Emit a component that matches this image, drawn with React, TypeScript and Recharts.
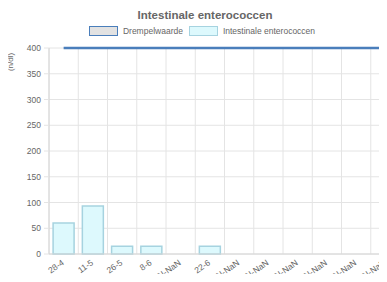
import { ComposedChart, Bar, Line, XAxis, YAxis, CartesianGrid } from 'recharts'

// sample dates (NaN-NaN where the source had no date)
const dates = ['28-4', '11-5', '26-5', '8-6', 'NaN-NaN', '22-6', 'NaN-NaN', 'NaN-NaN', 'NaN-NaN', 'NaN-NaN', 'NaN-NaN', 'NaN-NaN']
const enterococcen: Array<number | null> = [60, 93, 15, 15, null, 15, null, null, null, null, null, null]
const drempelwaarde = [400, 400, 400, 400, 400, 400, 400, 400, 400, 400, 400, 400]
const yTicks = [0, 50, 100, 150, 200, 250, 300, 350, 400]

const data = dates.map((d, i) => ({
  key: i,
  label: d,
  value: enterococcen[i],
  threshold: drempelwaarde[i],
}))

const FONT = '"Liberation Sans", Arial, sans-serif'
const TEXT = '#666'
const GRID = '#e4e4e4'

const XTick = ({ x, y, payload }: { x?: number; y?: number; payload?: { value: number } }) => {
  const label = dates[payload?.value ?? 0]
  const tx = (x ?? 0) + 1
  const ty = (y ?? 0) + 2
  return (
    <text x={tx} y={ty} transform={`rotate(-35, ${tx}, ${ty})`} textAnchor="end" fontSize={8.5} fill={TEXT} fontFamily={FONT}>
      {label}
    </text>
  )
}

const LegendItem = ({ label, fill, stroke }: { label: string; fill: string; stroke: string }) => (
  <span style={{ display: 'inline-flex', alignItems: 'center', marginRight: 6 }}>
    <span style={{ display: 'inline-block', width: 27, height: 8, background: fill, border: `1.5px solid ${stroke}`, marginRight: 5 }} />
    <span>{label}</span>
  </span>
)

export default function App() {
  return (
    <div style={{ margin: -8, width: 387, height: 282, overflow: 'hidden', position: 'relative', fontFamily: FONT }}>
      <div style={{ position: 'absolute', left: 0, width: 410, top: 9, textAlign: 'center', fontSize: 11.5, fontWeight: 'bold', color: TEXT }}>
        Intestinale enterococcen
      </div>
      <div style={{ position: 'absolute', left: 0, width: 410, top: 26, display: 'flex', justifyContent: 'center', fontSize: 8.5, color: TEXT }}>
        <LegendItem label="Drempelwaarde" fill="#e2e2e2" stroke="#4a7ebb" />
        <LegendItem label="Intestinale enterococcen" fill="#ddf9fd" stroke="#a6d3e0" />
      </div>
      <div style={{ position: 'absolute', left: 4, top: 47, width: 12, height: 30 }}>
        <svg width={12} height={30}>
          <text x={9} y={15} transform="rotate(-90, 9, 15)" textAnchor="middle" fontSize={8} fill={TEXT} fontFamily={FONT}>(n/dl)</text>
        </svg>
      </div>
      <ComposedChart
        width={410}
        height={290}
        data={data}
        margin={{ top: 48, right: 10, left: 0, bottom: 0 }}
        barCategoryGap="14%"
      >
        <CartesianGrid
          stroke={GRID}
          verticalCoordinatesGenerator={({ offset }: any) =>
            dates.map((_, i) => offset.left + (i * offset.width) / dates.length).concat([offset.left + offset.width])
          }
        />
        <XAxis dataKey="key" interval={0} height={36} tickLine={false} axisLine={{ stroke: '#d6d6d6' }} tick={<XTick />} />
        <YAxis
          width={49}
          domain={[0, 400]}
          ticks={yTicks}
          interval={0}
          tickSize={5}
          tickMargin={3}
          tickLine={{ stroke: GRID }}
          axisLine={{ stroke: '#d6d6d6' }}
          tick={{ fontSize: 8.5, fill: TEXT, fontFamily: FONT }}
        />
        <Bar dataKey="value" fill="#ddf9fd" stroke="#a6d3e0" strokeWidth={1.5} isAnimationActive={false} />
        <Line dataKey="threshold" stroke="#4a7ebb" strokeWidth={2.5} dot={false} isAnimationActive={false} />
      </ComposedChart>
    </div>
  )
}
